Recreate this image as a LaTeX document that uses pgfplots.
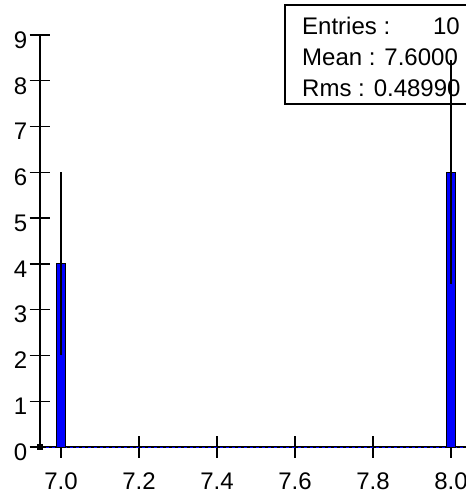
\documentclass[border=0pt]{standalone}
\usepackage{pgfplots}
\pgfplotsset{compat=1.18}
\usepackage{fontspec}
\setmainfont{Liberation Sans}
\begin{document}
\fontsize{24bp}{28bp}\selectfont
\begin{tikzpicture}[x=1bp,y=1bp]
\clip (0,0) rectangle (466,496);
\draw[line width=1.2bp, fill=white] (285,392) rectangle (490,491);
\node[anchor=base west, inner sep=0] at (302,461) {Entries :};
\node[anchor=base east, inner sep=0] at (460,461) {10};
\node[anchor=base west, inner sep=0] at (302,430) {Mean : 7.6000};
\node[anchor=base west, inner sep=0] at (302,399) {Rms : 0.48990};
\begin{axis}[
  at={(40bp,49bp)}, anchor=south west,
  scale only axis, width=426bp, height=412bp,
  xmin=6.946, xmax=8.0385, ymin=0, ymax=9,
  clip=false,
  axis x line=bottom, axis y line=left,
  axis line style={-, line width=1.3bp, black},
  xtick={7,7.2,7.4,7.6,7.8,8},
  ytick={0,1,2,3,4,5,6,7,8,9},
  tick align=center,
  major tick length=21bp,
  tick style={line width=1.3bp, black},
  font=\fontsize{24bp}{28bp}\selectfont,
  /pgf/number format/assume math mode=true,
  xticklabel style={font=\fontsize{24bp}{28bp}\selectfont, yshift=-7bp, /pgf/number format/.cd, fixed, fixed zerofill, precision=1},
  yticklabel style={font=\fontsize{24bp}{28bp}\selectfont, xshift=6bp, yshift=-5bp, /pgf/number format/.cd, fixed, precision=0},
]
\addplot[blue, dash pattern=on 3bp off 3bp, line width=0.8bp] coordinates {(6.946,0) (8.0385,0)};
\addplot[ybar, bar width=9.5bp, fill=blue, draw=black, line width=1bp,
  error bars/.cd, y dir=both, y explicit,
  error bar style={line width=1.3bp, black}, error mark=none]
  coordinates {(7,4) +- (0,2) (8,6) +- (0,2.449)};
\addplot[only marks, mark=square*, mark size=2.5bp, black] coordinates {(6.946,0)};
\end{axis}
\end{tikzpicture}
\end{document}
